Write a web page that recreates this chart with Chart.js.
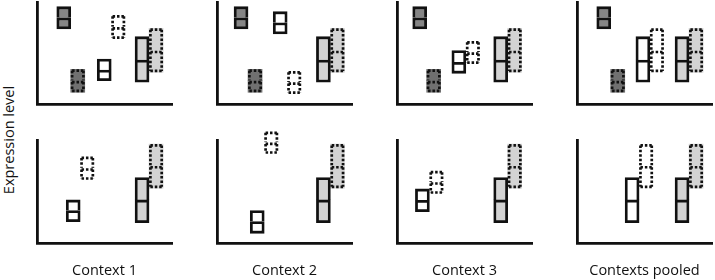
<!DOCTYPE html>
<html>
<head>
<meta charset="utf-8">
<script src="https://cdn.jsdelivr.net/npm/chart.js@4.4.1/dist/chart.umd.min.js"></script>
<style>
    html, body { margin: 0; padding: 0; background: #fff; }
    #figure { position: relative; width: 715px; height: 280px; font-family: 'Open Sans', sans-serif; color: #111; }
    #figure canvas { position: absolute; }
    #ylabel {
        position: absolute; left: 8px; top: 140px;
        transform: translate(-50%, -50%) rotate(-90deg);
        white-space: nowrap; font-size: 14.5px; color: #111;
    }
</style>
</head>
<body>
<div id="figure">
    <div id="ylabel">Expression level</div>
</div>
<script>
const contexts = ['Context 1', 'Context 2', 'Context 3', 'Contexts pooled'];

// group positions along each panel's x axis (0-100), one entry per context
const topDarkX = [25, 23, 22, 25];
const topWhiteX = [55, 52, 51, 54];
const topLightX = [83, 84, 82, 83];
const bottomWhiteX = [32, 35, 24, 46];
const bottomLightX = [83, 84, 82, 83];

// boxes as [low, median, high] per context
const topDarkSolid = [[73.5, 84.6, 95.4], [73.5, 84.6, 95.4], [73.5, 84.6, 95.4], [73.5, 84.6, 95.4]];
const topDarkDotted = [[11.5, 22.8, 34.0], [11.5, 22.8, 34.0], [11.5, 22.8, 34.0], [11.5, 22.8, 34.0]];
const topWhiteSolid = [[22.8, 33.3, 44.1], [68.6, 79.7, 90.5], [30.1, 40.9, 52.3], [21.3, 43.1, 66.0]];
const topWhiteDotted = [[63.7, 75.5, 87.3], [9.8, 21.3, 32.4], [39.2, 50.7, 61.8], [31.1, 52.3, 74.2]];
const topLightSolid = [[21.3, 43.1, 66.0], [21.3, 43.1, 66.0], [21.3, 43.1, 66.0], [21.3, 43.1, 66.0]];
const topLightDotted = [[31.1, 52.3, 74.2], [31.1, 52.3, 74.2], [31.1, 52.3, 74.2], [31.1, 52.3, 74.2]];
const bottomWhiteSolid = [[21.1, 31.8, 42.2], [9.7, 21.1, 31.8], [30.8, 41.9, 52.9], [20.1, 42.2, 63.9]];
const bottomWhiteDotted = [[61.7, 73.1, 84.4], [87.0, 98.0, 108.8], [48.1, 59.5, 70.5], [53.6, 75.3, 96.5]];
const bottomLightSolid = [[20.1, 42.2, 63.9], [20.1, 42.2, 63.9], [20.1, 42.2, 63.9], [20.1, 42.2, 63.9]];
const bottomLightDotted = [[53.6, 75.3, 96.5], [53.6, 75.3, 96.5], [53.6, 75.3, 96.5], [53.6, 75.3, 96.5]];

const INK = '#111111';
const DARK = '#858585';
const DARK_DOT = '#707070';
const LIGHT = '#d3d3d3';
const WHITE = '#ffffff';
const LINE = 2.8;
const DOT = 2.7;

// Chart.js bars can't have dashed borders, so dotted boxes get their outline here
const dottedBoxes = {
    id: 'dottedBoxes',
    afterDatasetDraw(chart, args) {
        const ds = chart.data.datasets[args.index];
        if (!ds.dotted) return;
        const ctx = chart.ctx;
        const h = DOT / 2;
        ctx.save();
        ctx.strokeStyle = INK;
        ctx.lineWidth = DOT;
        ctx.setLineDash([2.5, 1.9]);
        args.meta.data.forEach(bar => {
            const { x, y, base, width } = bar.getProps(['x', 'y', 'base', 'width'], true);
            const l = x - width / 2 + h, r = x + width / 2 - h;
            const t = Math.min(y, base) + h, b = Math.max(y, base) - h;
            ctx.beginPath();
            ctx.moveTo(l, t); ctx.lineTo(r, t);
            ctx.moveTo(l, t); ctx.lineTo(l, ds.upper ? b + h : b);
            ctx.moveTo(r, t); ctx.lineTo(r, ds.upper ? b + h : b);
            if (!ds.upper) { ctx.moveTo(l, b); ctx.lineTo(r, b); }
            ctx.stroke();
        });
        ctx.restore();
    }
};

function halves(groups, key, part) {
    return groups.map(g => {
        const box = g[key];
        return { x: g.x, y: part === 'lower' ? [box[0], box[1]] : [box[1], box[2]] };
    });
}

function makeDatasets(groups) {
    const common = { barThickness: 14, clip: false };
    return [
        { ...common, stack: 'solid', data: halves(groups, 'solid', 'lower'),
          backgroundColor: groups.map(g => g.solidFill), borderColor: INK, borderWidth: LINE, borderSkipped: false },
        { ...common, stack: 'solid', data: halves(groups, 'solid', 'upper'),
          backgroundColor: groups.map(g => g.solidFill), borderColor: INK, borderWidth: LINE, borderSkipped: 'bottom' },
        { ...common, stack: 'dotted', dotted: true, data: halves(groups, 'dotted', 'lower'),
          backgroundColor: groups.map(g => g.dottedFill), borderWidth: 0 },
        { ...common, stack: 'dotted', dotted: true, upper: true, data: halves(groups, 'dotted', 'upper'),
          backgroundColor: groups.map(g => g.dottedFill), borderWidth: 0 }
    ];
}

function makePanel(col, isBottom, groups) {
    const canvas = document.createElement('canvas');
    canvas.width = 180;
    canvas.height = isBottom ? 160 : 120;
    canvas.style.left = (col * 180) + 'px';
    canvas.style.top = isBottom ? '120px' : '0px';
    document.getElementById('figure').appendChild(canvas);

    const axisBorder = { display: true, color: INK, width: LINE };
    new Chart(canvas, {
        type: 'bar',
        data: { datasets: makeDatasets(groups) },
        options: {
            responsive: false,
            animation: false,
            events: [],
            layout: { padding: { left: 37, right: 8, top: isBottom ? 20.5 : 2, bottom: isBottom ? 0 : 16 } },
            plugins: { legend: { display: false }, tooltip: { enabled: false } },
            scales: {
                x: {
                    type: 'linear', min: 0, max: 100, offset: false,
                    ticks: { display: false },
                    grid: { display: false, drawTicks: false },
                    border: axisBorder,
                    title: {
                        display: isBottom, text: contexts[col], color: INK,
                        font: { family: "'Open Sans', sans-serif", size: 14.5, lineHeight: 1.2 },
                        padding: { top: 18.5, bottom: 0.8 }
                    }
                },
                y: {
                    type: 'linear', min: 0, max: 100, stacked: false,
                    ticks: { display: false },
                    grid: { display: false, drawTicks: false },
                    border: axisBorder
                }
            }
        },
        plugins: [dottedBoxes]
    });
}

contexts.forEach((ctxName, i) => {
    makePanel(i, false, [
        { x: topDarkX[i], solid: topDarkSolid[i], dotted: topDarkDotted[i], solidFill: DARK, dottedFill: DARK_DOT },
        { x: topWhiteX[i], solid: topWhiteSolid[i], dotted: topWhiteDotted[i], solidFill: WHITE, dottedFill: WHITE },
        { x: topLightX[i], solid: topLightSolid[i], dotted: topLightDotted[i], solidFill: LIGHT, dottedFill: LIGHT }
    ]);
    makePanel(i, true, [
        { x: bottomWhiteX[i], solid: bottomWhiteSolid[i], dotted: bottomWhiteDotted[i], solidFill: WHITE, dottedFill: WHITE },
        { x: bottomLightX[i], solid: bottomLightSolid[i], dotted: bottomLightDotted[i], solidFill: LIGHT, dottedFill: LIGHT }
    ]);
});
</script>
</body>
</html>
